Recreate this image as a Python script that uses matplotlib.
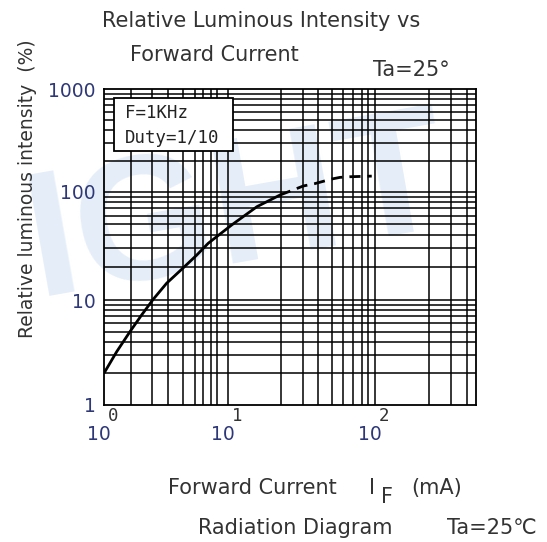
import numpy as np
import matplotlib
matplotlib.use("Agg")
import matplotlib.pyplot as plt
from matplotlib.patches import Rectangle

# ---- data ----
current_solid = [1.0, 1.385, 1.96, 2.47, 3.08, 3.89, 4.92, 6.2, 7.65, 10.46, 14.6, 19.8]
intensity_solid = [2.03, 3.22, 4.99, 7.2, 10.15, 14.3, 19.2, 26.0, 33.4, 49.3, 72.7, 93.1]
current_dashed = [19.8, 30.0, 37.5, 50.0, 57.0, 67.0, 95.0]
intensity_dashed = [93.1, 113.7, 120.0, 133.0, 138.0, 140.0, 142.0]

x_tick_values = [1, 10, 100]
x_tick_exponents = ["0", "1", "2"]
y_tick_values = [1, 10, 100, 1000]
y_tick_labels = ["1", "10", "100", "1000"]

x_grid = [2, 3, 4, 5, 6, 7, 8, 9, 10, 20, 30, 40, 50, 60, 70, 80, 90, 100, 200, 300, 400]
y_grid = [2, 3, 4, 5, 6, 7, 8, 9, 10, 20, 30, 40, 50, 60, 70, 80, 90, 100,
          200, 300, 400, 500, 600, 700, 800, 900]

# ---- scale calibration of the hand-drawn log paper ----
x_cal_vals = np.array([1, 2, 3, 4, 5, 6, 7, 8, 9, 10, 20, 30, 40, 50, 60, 70, 80, 90, 100, 200, 300, 400, 500], float)
x_cal_pos = np.array([104.3, 130.7, 151.7, 168.3, 182.7, 195, 203.3, 210.7, 216.7, 228.3, 280.7, 303.3,
                      318.3, 331.7, 343.3, 352.7, 361.7, 368.3, 375, 429.3, 450.7, 466.7, 476])
x_cal_u = (x_cal_pos - x_cal_pos[0]) / (x_cal_pos[-1] - x_cal_pos[0])
x_cal_log = np.log10(x_cal_vals)

y_cal_vals = np.array([1, 10, 100, 1000], float)
y_cal_pos = np.array([405, 300, 191.7, 89.3])
y_cal_u = (y_cal_pos[0] - y_cal_pos) / (y_cal_pos[0] - y_cal_pos[-1])
y_cal_log = np.log10(y_cal_vals)


def x_fwd(v):
    v = np.asarray(v, float)
    return np.interp(np.log10(np.clip(v, 1e-9, None)), x_cal_log, x_cal_u)


def x_inv(u):
    return 10 ** np.interp(np.asarray(u, float), x_cal_u, x_cal_log)


def y_fwd(v):
    v = np.asarray(v, float)
    return np.interp(np.log10(np.clip(v, 1e-9, None)), y_cal_log, y_cal_u)


def y_inv(u):
    return 10 ** np.interp(np.asarray(u, float), y_cal_u, y_cal_log)


W, H = 547, 542
fig = plt.figure(figsize=(W / 100, H / 100), dpi=100)
fig.patch.set_facecolor("white")


def fx(px):
    return px / W


def fy(py):
    return 1 - py / H


# faint watermark behind the chart
fig.text(fx(238), fy(214), "IGHT", fontsize=128, fontweight="bold", family="Liberation Sans",
         color="#e5eef8", rotation=10, ha="center", va="center", zorder=-10)

ax = fig.add_axes([fx(104.3), fy(405), (476 - 104.3) / W, (405 - 89.3) / H])
ax.patch.set_alpha(0)
ax.set_xscale("function", functions=(x_fwd, x_inv))
ax.set_yscale("function", functions=(y_fwd, y_inv))
ax.set_xlim(1, 500)
ax.set_ylim(1, 1000)

for v in x_grid:
    ax.axvline(v, color="black", lw=1.1, zorder=1)
for v in y_grid:
    ax.axhline(v, color="black", lw=1.1, zorder=1)
for s in ax.spines.values():
    s.set_linewidth(1.3)

ax.plot(current_solid, intensity_solid, color="black", lw=2.0, zorder=4,
        solid_capstyle="round", solid_joinstyle="round")
ax.plot(current_dashed, intensity_dashed, color="black", lw=2.0, zorder=4, ls=(0, (4, 2.5)))

# annotation box
ax.add_patch(Rectangle((0.026, 0.8055), 0.321, 0.166, transform=ax.transAxes,
                       facecolor="white", edgecolor="black", lw=1.3, zorder=5))
ax.text(0.055, 0.925, "F=1KHz", transform=ax.transAxes, fontsize=12.5, family="DejaVu Sans Mono",
        color="#222222", va="center", ha="left", zorder=6)
ax.text(0.055, 0.845, "Duty=1/10", transform=ax.transAxes, fontsize=12.5, family="DejaVu Sans Mono",
        color="#222222", va="center", ha="left", zorder=6)

tick_color = "#2e3878"
ax.set_xticks([])
ax.set_yticks(y_tick_values)
ax.set_yticklabels(y_tick_labels, fontsize=13.5, color=tick_color)
ax.tick_params(axis="y", length=0, pad=6)
ax.minorticks_off()

for v, e in zip(x_tick_values, x_tick_exponents):
    ax.annotate("10", xy=(v, 0), xycoords=("data", "axes fraction"), xytext=(-5, -29),
                textcoords="offset pixels", ha="center", va="center", fontsize=13.5, color=tick_color)
    ax.annotate(e, xy=(v, 0), xycoords=("data", "axes fraction"), xytext=(9, -11),
                textcoords="offset pixels", ha="center", va="center", fontsize=12.5,
                family="DejaVu Sans Mono", color="#333333")

txt = "#333333"
fs = 15
fig.text(fx(261), fy(21), "Relative Luminous Intensity vs", fontsize=fs, color=txt, ha="center", va="center")
fig.text(fx(214), fy(55), "Forward Current", fontsize=fs, color=txt, ha="center", va="center")
fig.text(fx(411), fy(70), "Ta=25°", fontsize=fs, color=txt, ha="center", va="center")
fig.text(fx(28), fy(189), "Relative luminous intensity  (%)", fontsize=13.5, color=txt,
         rotation=90, ha="center", va="center")
fig.text(fx(252), fy(488), "Forward Current", fontsize=fs, color=txt, ha="center", va="center")
fig.text(fx(372), fy(488), "I", fontsize=fs, color=txt, ha="center", va="center")
fig.text(fx(387), fy(497), "F", fontsize=fs, color=txt, ha="center", va="center")
fig.text(fx(437), fy(488), "(mA)", fontsize=fs, color=txt, ha="center", va="center")
fig.text(fx(295), fy(528), "Radiation Diagram", fontsize=fs, color=txt, ha="center", va="center")
fig.text(fx(492), fy(528), "Ta=25℃", fontsize=fs, color=txt, ha="center", va="center")

fig.savefig("out.png", dpi=100)
